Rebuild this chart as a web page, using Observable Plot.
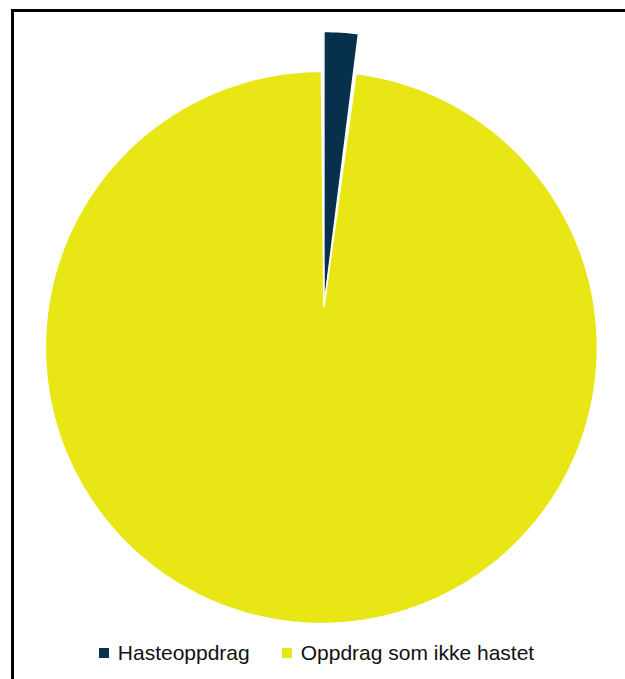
<!DOCTYPE html>
<html>
<head>
<meta charset="utf-8">
<script src="https://cdn.jsdelivr.net/npm/d3@7"></script>
<script src="https://cdn.jsdelivr.net/npm/@observablehq/plot@0.6"></script>
<style>
  html, body { margin: 0; padding: 0; background: #fff; overflow: hidden; width: 625px; height: 679px; }
  #frame { position: absolute; left: 11px; top: 9px; width: 700px; height: 700px;
           border-top: 3px solid #000; border-left: 3px solid #000; box-sizing: border-box; }
  #chart { position: absolute; left: 0; top: 0; }
  #legend { position: absolute; left: 0; top: 639px; width: 625px; height: 28px;
            display: flex; justify-content: center; align-items: center; gap: 32px;
            font-family: "Liberation Sans", Arial, sans-serif; font-size: 21px; color: #111; padding-left: 8px; box-sizing: border-box; }
  .item { display: flex; align-items: center; gap: 9px; }
  .sw { width: 10px; height: 10px; display: inline-block; }
</style>
</head>
<body>
<div id="frame"></div>
<div id="chart"></div>
<div id="legend"></div>
<script>
const categories = ["Hasteoppdrag", "Oppdrag som ikke hastet"];
const values = [2, 98];
const colors = ["#07304d", "#e8e614"];

const explodeFrac = [0, 0.145]; // radial offset of each slice's arc, fraction of radius

const arcs = d3.pie().sort(null).startAngle(0).endAngle(2 * Math.PI)(values);

const marks = arcs.map((a, i) => {
  const mid = (a.startAngle + a.endAngle) / 2;
  const ox = explodeFrac[i] * Math.sin(mid);
  const oy = explodeFrac[i] * Math.cos(mid);
  const n = Math.max(4, Math.ceil((a.endAngle - a.startAngle) / (Math.PI / 180)));
  const pts = [{x: 0, y: 0}];
  for (let k = 0; k <= n; k++) {
    const t = a.startAngle + (a.endAngle - a.startAngle) * k / n;
    pts.push({x: ox + Math.sin(t), y: oy + Math.cos(t)});
  }
  return Plot.line(pts, {x: "x", y: "y", curve: "linear-closed",
    fill: colors[i], stroke: "#fff", strokeWidth: 1.5, strokeLinejoin: "miter"});
});

const cx = 323.4, cy = 307, r = 276;
const chart = Plot.plot({
  width: 625,
  height: 635,
  margin: 0,
  x: {domain: [-1, 1], range: [cx - r, cx + r], axis: null},
  y: {domain: [-1, 1], range: [cy + r, cy - r], axis: null},
  marks
});
document.getElementById("chart").appendChild(chart);

const legend = document.getElementById("legend");
categories.forEach((c, i) => {
  const it = document.createElement("div");
  it.className = "item";
  const sw = document.createElement("span");
  sw.className = "sw";
  sw.style.background = colors[i];
  const tx = document.createElement("span");
  tx.textContent = c;
  it.appendChild(sw);
  it.appendChild(tx);
  legend.appendChild(it);
});
</script>
</body>
</html>
